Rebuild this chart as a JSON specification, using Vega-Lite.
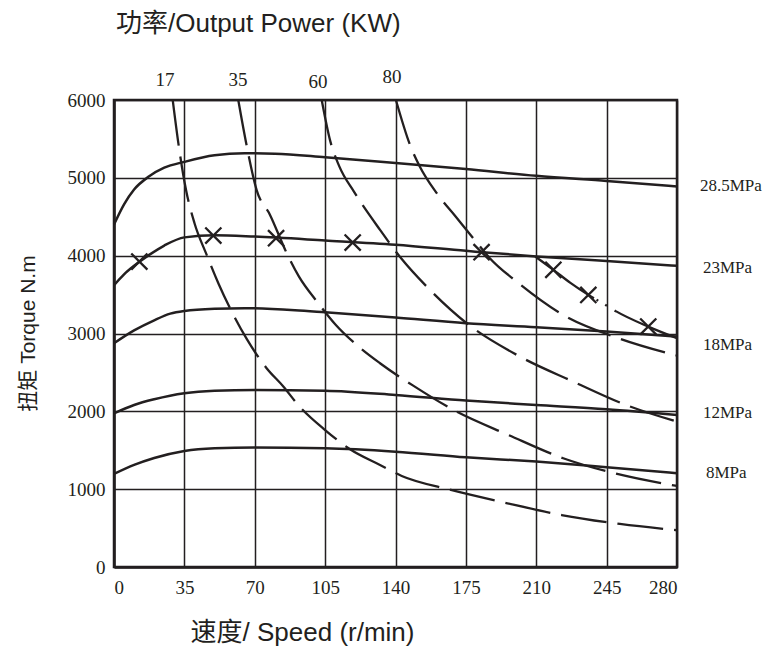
{
  "$schema": "https://vega.github.io/schema/vega-lite/v6.json",
  "width": 563,
  "height": 467,
  "autosize": {"type": "none"},
  "padding": {"left": 114, "top": 100, "right": 91, "bottom": 81},
  "background": "white",
  "config": {
    "view": {"stroke": "#231f20", "strokeWidth": 2.5},
    "axis": {"gridColor": "#231f20", "gridWidth": 1.5, "gridOpacity": 1, "domainColor": "#231f20", "domainWidth": 2.5, "ticks": false, "labelFont": "Liberation Serif", "labelFontSize": 19, "labelColor": "#231f20", "titleFont": "Liberation Sans, Noto Sans CJK SC", "titleFontSize": 21, "titleFontWeight": "normal", "titleColor": "#231f20"}
  },
  "title": {"text": "功率/Output Power (KW)", "anchor": "start", "frame": "group", "font": "Liberation Sans, Noto Sans CJK SC", "fontSize": 26, "fontWeight": "normal", "color": "#231f20", "offset": 31, "dx": 2},
  "datasets": {
    "pressure": [
      {"p": "28.5", "speed": 0, "torque": 4400}, {"p": "28.5", "speed": 5, "torque": 4660}, {"p": "28.5", "speed": 10, "torque": 4850}, {"p": "28.5", "speed": 17.5, "torque": 5020}, {"p": "28.5", "speed": 25, "torque": 5130}, {"p": "28.5", "speed": 35, "torque": 5205}, {"p": "28.5", "speed": 50, "torque": 5290}, {"p": "28.5", "speed": 65, "torque": 5315}, {"p": "28.5", "speed": 80, "torque": 5310}, {"p": "28.5", "speed": 105, "torque": 5265}, {"p": "28.5", "speed": 140, "torque": 5190}, {"p": "28.5", "speed": 175, "torque": 5112}, {"p": "28.5", "speed": 210, "torque": 5026}, {"p": "28.5", "speed": 245, "torque": 4960}, {"p": "28.5", "speed": 280, "torque": 4890},
      {"p": "23", "speed": 0, "torque": 3620}, {"p": "23", "speed": 5, "torque": 3760}, {"p": "23", "speed": 10, "torque": 3870}, {"p": "23", "speed": 17.5, "torque": 4010}, {"p": "23", "speed": 25, "torque": 4130}, {"p": "23", "speed": 35, "torque": 4235}, {"p": "23", "speed": 50, "torque": 4262}, {"p": "23", "speed": 70, "torque": 4245}, {"p": "23", "speed": 105, "torque": 4195}, {"p": "23", "speed": 140, "torque": 4140}, {"p": "23", "speed": 175, "torque": 4062}, {"p": "23", "speed": 210, "torque": 3990}, {"p": "23", "speed": 245, "torque": 3933}, {"p": "23", "speed": 280, "torque": 3869},
      {"p": "18", "speed": 0, "torque": 2875}, {"p": "18", "speed": 10, "torque": 3040}, {"p": "18", "speed": 20, "torque": 3170}, {"p": "18", "speed": 28, "torque": 3255}, {"p": "18", "speed": 35, "torque": 3290}, {"p": "18", "speed": 50, "torque": 3318}, {"p": "18", "speed": 65, "torque": 3325}, {"p": "18", "speed": 90, "torque": 3300}, {"p": "18", "speed": 105, "torque": 3273}, {"p": "18", "speed": 140, "torque": 3205}, {"p": "18", "speed": 175, "torque": 3132}, {"p": "18", "speed": 210, "torque": 3081}, {"p": "18", "speed": 245, "torque": 3025}, {"p": "18", "speed": 280, "torque": 2960},
      {"p": "12", "speed": 0, "torque": 1975}, {"p": "12", "speed": 10, "torque": 2082}, {"p": "12", "speed": 20, "torque": 2155}, {"p": "12", "speed": 35, "torque": 2233}, {"p": "12", "speed": 50, "torque": 2265}, {"p": "12", "speed": 70, "torque": 2275}, {"p": "12", "speed": 105, "torque": 2266}, {"p": "12", "speed": 140, "torque": 2211}, {"p": "12", "speed": 175, "torque": 2138}, {"p": "12", "speed": 210, "torque": 2082}, {"p": "12", "speed": 245, "torque": 2027}, {"p": "12", "speed": 280, "torque": 1954},
      {"p": "8", "speed": 0, "torque": 1195}, {"p": "8", "speed": 10, "torque": 1311}, {"p": "8", "speed": 20, "torque": 1400}, {"p": "8", "speed": 35, "torque": 1491}, {"p": "8", "speed": 50, "torque": 1525}, {"p": "8", "speed": 70, "torque": 1534}, {"p": "8", "speed": 105, "torque": 1525}, {"p": "8", "speed": 140, "torque": 1482}, {"p": "8", "speed": 175, "torque": 1410}, {"p": "8", "speed": 210, "torque": 1354}, {"p": "8", "speed": 245, "torque": 1281}, {"p": "8", "speed": 280, "torque": 1204}
    ],
    "power": [
      {"kw": "17", "speed": 29.2, "torque": 6000}, {"kw": "17", "speed": 32, "torque": 5446}, {"kw": "17", "speed": 35.8, "torque": 4846}, {"kw": "17", "speed": 40, "torque": 4420}, {"kw": "17", "speed": 46.1, "torque": 4010}, {"kw": "17", "speed": 52, "torque": 3640}, {"kw": "17", "speed": 57.7, "torque": 3325}, {"kw": "17", "speed": 66, "torque": 2930}, {"kw": "17", "speed": 75.9, "torque": 2554}, {"kw": "17", "speed": 84.2, "torque": 2320}, {"kw": "17", "speed": 91.6, "torque": 2082}, {"kw": "17", "speed": 105, "torque": 1760}, {"kw": "17", "speed": 117.4, "torque": 1513}, {"kw": "17", "speed": 132.3, "torque": 1311}, {"kw": "17", "speed": 143.1, "torque": 1170}, {"kw": "17", "speed": 166.2, "torque": 999}, {"kw": "17", "speed": 194.4, "torque": 826}, {"kw": "17", "speed": 222.6, "torque": 668}, {"kw": "17", "speed": 251.6, "torque": 553}, {"kw": "17", "speed": 280, "torque": 472},
      {"kw": "35", "speed": 61.8, "torque": 6000}, {"kw": "35", "speed": 65.9, "torque": 5424}, {"kw": "35", "speed": 70.9, "torque": 4846}, {"kw": "35", "speed": 77.6, "torque": 4524}, {"kw": "35", "speed": 85.9, "torque": 4032}, {"kw": "35", "speed": 92, "torque": 3730}, {"kw": "35", "speed": 101.6, "torque": 3389}, {"kw": "35", "speed": 110, "torque": 3120}, {"kw": "35", "speed": 120.7, "torque": 2853}, {"kw": "35", "speed": 132.3, "torque": 2618}, {"kw": "35", "speed": 148.8, "torque": 2330}, {"kw": "35", "speed": 170.4, "torque": 1996}, {"kw": "35", "speed": 196.1, "torque": 1697}, {"kw": "35", "speed": 223.4, "torque": 1397}, {"kw": "35", "speed": 250.8, "torque": 1192}, {"kw": "35", "speed": 280, "torque": 1041},
      {"kw": "60", "speed": 103.3, "torque": 6000}, {"kw": "60", "speed": 107.4, "torque": 5488}, {"kw": "60", "speed": 112, "torque": 5150}, {"kw": "60", "speed": 119.4, "torque": 4820}, {"kw": "60", "speed": 132.3, "torque": 4332}, {"kw": "60", "speed": 143, "torque": 3960}, {"kw": "60", "speed": 155.5, "torque": 3603}, {"kw": "60", "speed": 175.4, "torque": 3132}, {"kw": "60", "speed": 201.9, "torque": 2703}, {"kw": "60", "speed": 228.4, "torque": 2382}, {"kw": "60", "speed": 254.6, "torque": 2082}, {"kw": "60", "speed": 280, "torque": 1868},
      {"kw": "80", "speed": 140.2, "torque": 6000}, {"kw": "80", "speed": 147.2, "torque": 5424}, {"kw": "80", "speed": 152, "torque": 5150}, {"kw": "80", "speed": 160.5, "torque": 4803}, {"kw": "80", "speed": 170, "torque": 4500}, {"kw": "80", "speed": 180.4, "torque": 4170}, {"kw": "80", "speed": 186.9, "torque": 3968}, {"kw": "80", "speed": 200.2, "torque": 3667}, {"kw": "80", "speed": 224.2, "torque": 3226}, {"kw": "80", "speed": 250.8, "torque": 2940}, {"kw": "80", "speed": 280, "torque": 2716}
    ],
    "maxpower": [
      {"speed": 209.5, "torque": 3989}, {"speed": 218.5, "torque": 3818}, {"speed": 227, "torque": 3650}, {"speed": 235.9, "torque": 3496}, {"speed": 245.3, "torque": 3355}, {"speed": 250, "torque": 3281}, {"speed": 265.7, "torque": 3089}, {"speed": 280, "torque": 2940}
    ],
    "markers": [
      {"speed": 12.6, "torque": 3924}, {"speed": 49.4, "torque": 4259}, {"speed": 80.6, "torque": 4225}, {"speed": 118.7, "torque": 4169}, {"speed": 182.8, "torque": 4045}, {"speed": 218.5, "torque": 3818}, {"speed": 235.9, "torque": 3496}, {"speed": 265.7, "torque": 3089}
    ],
    "powerLabels": [
      {"label": "17", "speed": 25.4, "torque": 6260}, {"label": "35", "speed": 61.7, "torque": 6260}, {"label": "60", "speed": 101.4, "torque": 6234}, {"label": "80", "speed": 138.2, "torque": 6298}
    ],
    "pressureLabels": [
      {"label": "28.5MPa", "speed": 291.4, "torque": 4897}, {"label": "23MPa", "speed": 292.9, "torque": 3843}, {"label": "18MPa", "speed": 292.9, "torque": 2853}, {"label": "12MPa", "speed": 292.9, "torque": 1979}, {"label": "8MPa", "speed": 294.4, "torque": 1208}
    ]
  },
  "encoding": {
    "x": {"field": "speed", "type": "quantitative", "scale": {"domain": [0, 280], "nice": false, "zero": false},
      "axis": {"values": [0, 35, 70, 105, 140, 175, 210, 245, 280], "format": "d", "labelPadding": 11, "title": "速度/ Speed (r/min)", "titleFontSize": 26, "titleX": 188, "titleY": 65, "titleAlign": "center", "titleBaseline": "middle"}},
    "y": {"field": "torque", "type": "quantitative", "scale": {"domain": [0, 6000], "nice": false},
      "axis": {"values": [0, 1000, 2000, 3000, 4000, 5000, 6000], "format": "d", "labelPadding": 9, "title": "扭矩 Torque N.m", "titleX": -86, "titleY": 233, "titleAngle": -90, "titleAlign": "center", "titleBaseline": "middle"}}
  },
  "layer": [
    {"data": {"name": "pressure"}, "mark": {"type": "line", "interpolate": "monotone", "color": "#231f20", "strokeWidth": 2.5}, "encoding": {"detail": {"field": "p"}}},
    {"data": {"name": "power"}, "mark": {"type": "line", "interpolate": "monotone", "color": "#231f20", "strokeWidth": 2.3, "strokeDash": [46, 11]}, "encoding": {"detail": {"field": "kw"}}},
    {"data": {"name": "maxpower"}, "mark": {"type": "line", "interpolate": "monotone", "color": "#231f20", "strokeWidth": 2.3, "strokeDash": [72, 3, 2, 8, 2, 9, 100, 10]}, "encoding": {}},
    {"data": {"name": "markers"}, "mark": {"type": "point", "shape": "M-1,-1L1,1M-1,1L1,-1", "size": 260, "filled": false, "stroke": "#231f20", "strokeWidth": 2.3, "opacity": 1}},
    {"data": {"name": "powerLabels"}, "mark": {"type": "text", "clip": false, "font": "Liberation Serif", "fontSize": 19, "color": "#231f20", "baseline": "middle", "align": "center"}, "encoding": {"text": {"field": "label"}}},
    {"data": {"name": "pressureLabels"}, "mark": {"type": "text", "clip": false, "font": "Liberation Serif", "fontSize": 17, "color": "#231f20", "baseline": "middle", "align": "left"}, "encoding": {"text": {"field": "label"}}}
  ]
}
